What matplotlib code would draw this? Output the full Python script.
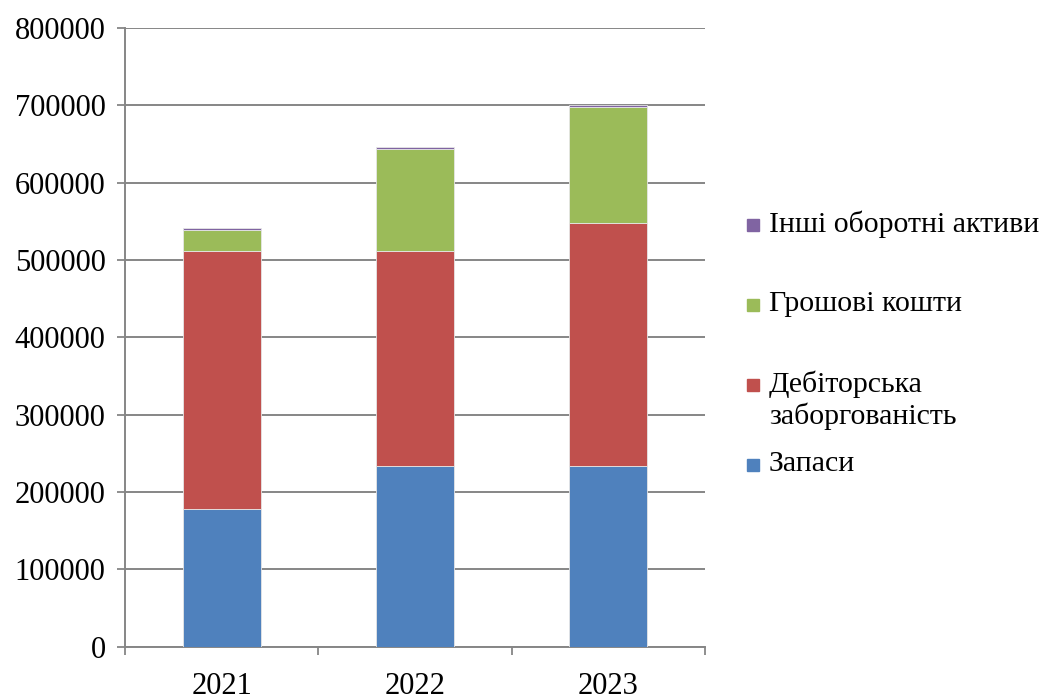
import matplotlib.pyplot as plt
from matplotlib.patches import Rectangle

plt.rcParams['font.family'] = ['Liberation Serif', 'DejaVu Serif']

years = ['2021', '2022', '2023']
zapasy = [178000, 234000, 234000]
debitorska = [334000, 277600, 314000]
groshovi = [27000, 131400, 150000]
inshi = [2500, 3100, 2500]

labels = ['Запаси', 'Дебіторська\nзаборгованість', 'Грошові кошти', 'Інші оборотні активи']
colors = ['#4F81BD', '#C0504D', '#9BBB59', '#8064A2']
series = [zapasy, debitorska, groshovi, inshi]

fig = plt.figure(figsize=(10.42, 6.95), dpi=100)
ax = fig.add_axes([125/1042, 1 - 646.5/695, 580/1042, 618.5/695])

x = list(range(len(years)))
bottom = [0, 0, 0]
for vals, col in zip(series, colors):
    ax.bar(x, vals, width=0.405, bottom=bottom, color=col, edgecolor='#e6e6e6',
           linewidth=0.6, zorder=3)
    bottom = [b + v for b, v in zip(bottom, vals)]

ax.set_xlim(-0.5, 2.5)
ax.set_ylim(0, 800000)
ax.set_yticks(range(0, 800001, 100000))
ax.set_yticklabels([str(v) for v in range(0, 800001, 100000)])
ax.set_xticks(x)
ax.set_xticklabels(years)
ax.set_xticks([-0.5, 0.5, 1.5, 2.5], minor=True)
ax.tick_params(axis='x', which='major', length=0, pad=18, labelsize=22)
ax.tick_params(axis='x', which='minor', length=6, width=1.3, color='#868686', direction='out')
ax.tick_params(axis='y', length=6, width=1.3, color='#868686', pad=8, labelsize=22)

ax.yaxis.grid(True, color='#868686', linewidth=1.4, zorder=0)
for s in ['top', 'right']:
    ax.spines[s].set_visible(False)
for s in ['left', 'bottom']:
    ax.spines[s].set_color('#868686')
    ax.spines[s].set_linewidth(1.4)

# legend drawn by hand, Excel style
leg_y = [465, 385, 305, 225]
for lab, col, yy in zip(labels, colors, leg_y):
    fy = 1 - yy / 695
    fig.patches.append(Rectangle((747/1042, fy - 6/695), 12/1042, 12/695,
                                 transform=fig.transFigure, color=col))
    fig.text(769/1042, fy + 14/695, lab, fontsize=21.5, va='top', ha='left',
             linespacing=1.2)

fig.savefig('out.png', dpi=100)
